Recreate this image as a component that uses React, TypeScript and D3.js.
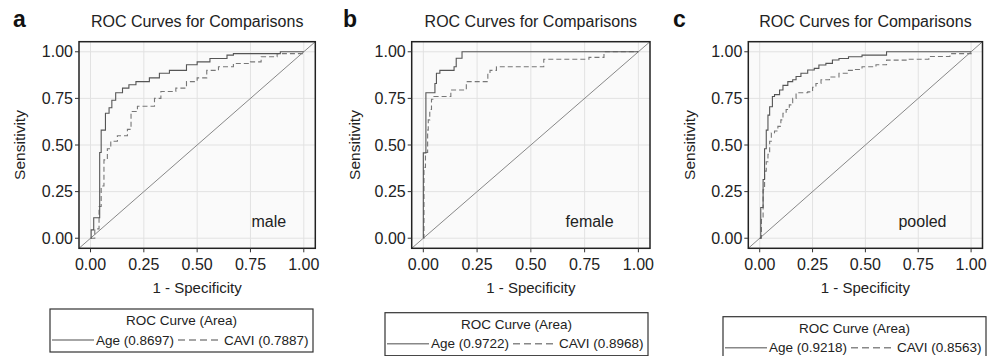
import React from "react";
import * as d3 from "d3";

// ROC points [1 - specificity, sensitivity]
const maleAge = [[0,0],[0.003,0.045],[0.015,0.11],[0.043,0.46],[0.05,0.58],[0.07,0.67],[0.087,0.70],[0.1,0.74],[0.118,0.78],[0.15,0.805],[0.18,0.823],[0.213,0.84],[0.276,0.86],[0.323,0.885],[0.37,0.9],[0.45,0.93],[0.5,0.946],[0.56,0.964],[0.64,0.982],[0.67,0.99],[0.89,1.0],[1,1]];
const maleCavi = [[0,0],[0.02,0.05],[0.04,0.17],[0.05,0.28],[0.063,0.42],[0.079,0.48],[0.095,0.52],[0.126,0.55],[0.173,0.584],[0.19,0.68],[0.22,0.708],[0.3,0.75],[0.33,0.787],[0.4,0.805],[0.45,0.84],[0.5,0.86],[0.545,0.9],[0.6,0.92],[0.67,0.937],[0.75,0.946],[0.8,0.973],[0.875,0.99],[1,1]];
const femaleAge = [[0,0],[0,0.458],[0.012,0.78],[0.054,0.83],[0.061,0.885],[0.077,0.9],[0.143,0.92],[0.153,0.965],[0.18,1.0],[1,1]];
const femaleCavi = [[0,0],[0.003,0.38],[0.01,0.46],[0.02,0.58],[0.023,0.635],[0.03,0.69],[0.038,0.745],[0.049,0.76],[0.128,0.795],[0.2,0.84],[0.3,0.885],[0.31,0.9],[0.34,0.92],[0.56,0.96],[0.77,0.97],[0.84,1.0],[1,1]];
const pooledAge = [[0,0],[0.005,0.165],[0.016,0.315],[0.023,0.48],[0.031,0.58],[0.039,0.66],[0.047,0.705],[0.06,0.76],[0.07,0.77],[0.094,0.795],[0.11,0.82],[0.133,0.84],[0.156,0.85],[0.172,0.867],[0.195,0.885],[0.227,0.902],[0.258,0.911],[0.28,0.929],[0.313,0.938],[0.344,0.956],[0.375,0.964],[0.42,0.973],[0.484,0.982],[0.6,1.0],[1,1]];
const pooledCavi = [[0,0],[0.008,0.1],[0.016,0.26],[0.023,0.36],[0.031,0.41],[0.039,0.45],[0.047,0.52],[0.055,0.565],[0.07,0.575],[0.086,0.6],[0.1,0.635],[0.11,0.67],[0.125,0.69],[0.14,0.715],[0.156,0.75],[0.172,0.78],[0.227,0.785],[0.25,0.81],[0.266,0.83],[0.29,0.85],[0.33,0.865],[0.375,0.885],[0.414,0.9],[0.453,0.905],[0.484,0.92],[0.55,0.93],[0.6,0.955],[0.7,0.96],[0.8,0.975],[0.9,0.99],[1,1]];

const panelLetters = ["a", "b", "c"];
const groupLabels = ["male", "female", "pooled"];
const ageAreas = ["0.8697", "0.9722", "0.9218"];
const caviAreas = ["0.7887", "0.8968", "0.8563"];
const ticks = [0, 0.25, 0.5, 0.75, 1];
const tickLabels = ["0.00", "0.25", "0.50", "0.75", "1.00"];

// layout of each panel (pixel boxes)
const layout = [
  { left: 79, right: 315.3, letterX: 13, yTitleX: 20, legendX: 50, legendY: 309, labelX: 0.836 },
  { left: 411.7, right: 650, letterX: 343, yTitleX: 355, legendX: 385, legendY: 312.7, labelX: 0.773 },
  { left: 748.3, right: 982.5, letterX: 673, yTitleX: 690, legendX: 723, legendY: 316.7, labelX: 0.77 },
];
const curves = [[maleAge, maleCavi], [femaleAge, femaleCavi], [pooledAge, pooledCavi]];

const TOP = 41.7;
const BOTTOM = 248.3;
const EXP = 0.054;
const FONT = "'Liberation Sans', Arial, Helvetica, sans-serif";

function Panel({ i }: { i: number }) {
  const L = layout[i];
  const x = d3.scaleLinear().domain([-EXP, 1 + EXP]).range([L.left, L.right]);
  const y = d3.scaleLinear().domain([-EXP, 1 + EXP]).range([BOTTOM, TOP]);
  const line = d3.line<number[]>().x(d => x(d[0])).y(d => y(d[1])).curve(d3.curveStepAfter);
  const [age, cavi] = curves[i];
  const cx = (L.left + L.right) / 2;
  const lx = L.legendX;
  const ly = L.legendY;
  return (
    <g fontFamily={FONT}>
      <text x={L.letterX} y={27} fontSize={23} fontWeight="bold" fill="#111">{panelLetters[i]}</text>
      <text x={cx} y={27} fontSize={16} textAnchor="middle" fill="#222">ROC Curves for Comparisons</text>
      <rect x={L.left} y={TOP} width={L.right - L.left} height={BOTTOM - TOP} fill="#fafafa" />
      {ticks.map(t => (
        <g key={t}>
          <line x1={x(t)} x2={x(t)} y1={TOP} y2={BOTTOM} stroke="#e2e2e2" strokeWidth={1} />
          <line x1={L.left} x2={L.right} y1={y(t)} y2={y(t)} stroke="#e2e2e2" strokeWidth={1} />
        </g>
      ))}
      <line x1={x(-EXP)} y1={y(-EXP)} x2={x(1 + EXP)} y2={y(1 + EXP)} stroke="#888" strokeWidth={1} />
      <path d={line(cavi) || ""} fill="none" stroke="#777" strokeWidth={1.1} strokeDasharray="5,3" />
      <path d={line(age) || ""} fill="none" stroke="#555" strokeWidth={1.1} />
      <text x={x(L.labelX)} y={y(0.09)} dy="0.35em" fontSize={16} textAnchor="middle" fill="#222">{groupLabels[i]}</text>
      <rect x={L.left} y={TOP} width={L.right - L.left} height={BOTTOM - TOP} fill="none" stroke="#222" strokeWidth={1.5} />
      {ticks.map((t, k) => (
        <g key={"t" + t}>
          <line x1={L.left - 4} x2={L.left} y1={y(t)} y2={y(t)} stroke="#333" />
          <text x={L.left - 6} y={y(t)} dy="0.35em" fontSize={16} textAnchor="end" fill="#222">{tickLabels[k]}</text>
          <line x1={x(t)} x2={x(t)} y1={BOTTOM} y2={BOTTOM + 4} stroke="#333" />
          <text x={x(t)} y={270} fontSize={16} textAnchor="middle" fill="#222">{tickLabels[k]}</text>
        </g>
      ))}
      <text x={cx} y={293} fontSize={15} textAnchor="middle" fill="#222">1 - Specificity</text>
      <text transform={`translate(${L.yTitleX},${(TOP + BOTTOM) / 2}) rotate(-90)`} dy="0.35em" fontSize={15.5} textAnchor="middle" fill="#222">Sensitivity</text>
      <g>
        <rect x={lx} y={ly} width={263} height={43} fill="#fff" stroke="#333" strokeWidth={1.2} />
        <text x={lx + 131.5} y={ly + 11.5} dy="0.35em" fontSize={13.5} textAnchor="middle" fill="#222">ROC Curve (Area)</text>
        <line x1={lx + 2} x2={lx + 44} y1={ly + 31} y2={ly + 31} stroke="#888" strokeWidth={1.6} />
        <text x={lx + 46} y={ly + 31} dy="0.35em" fontSize={13.5} fill="#222">{`Age (${ageAreas[i]})`}</text>
        <line x1={lx + 128} x2={lx + 170} y1={ly + 31} y2={ly + 31} stroke="#888" strokeWidth={1.6} strokeDasharray="7,4" />
        <text x={lx + 174} y={ly + 31} dy="0.35em" fontSize={13.5} fill="#222">{`CAVI (${caviAreas[i]})`}</text>
      </g>
    </g>
  );
}

export default function App() {
  return (
    <svg width={987} height={356} style={{ position: "absolute", left: 0, top: 0, background: "#fff" }}>
      {panelLetters.map((_, i) => <Panel key={i} i={i} />)}
    </svg>
  );
}
